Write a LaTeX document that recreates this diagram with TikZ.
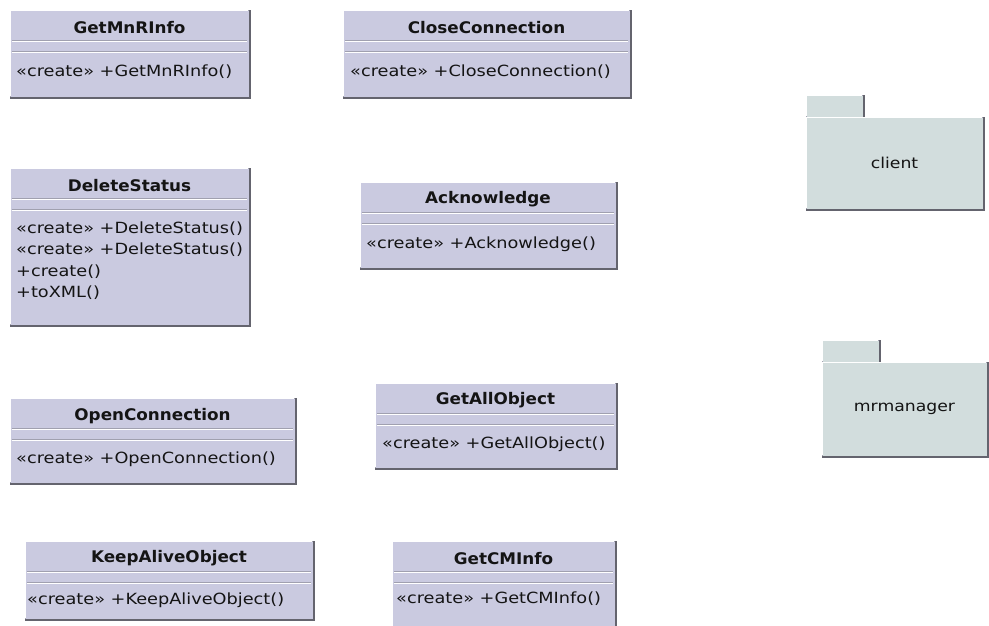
\documentclass[tikz,border=0pt]{standalone}
\usepackage{fontspec}
\setmainfont{DejaVu Sans}
\newfontfamily\mfont[FakeStretch=1.15]{DejaVu Sans}
\newfontfamily\tfont[FakeStretch=1.05]{DejaVu Sans}
\definecolor{clsfill}{RGB}{202,202,224}
\definecolor{pkgfill}{RGB}{210,221,221}
\definecolor{edgedark}{RGB}{100,100,110}
\definecolor{edgemid}{RGB}{160,160,175}
\definecolor{textc}{RGB}{20,20,20}
\tikzset{
  clsbox/.style={draw=edgemid, line width=0.8pt, fill=clsfill, inner sep=0pt, rectangle},
  pkgbox/.style={draw=edgemid, line width=0.8pt, fill=pkgfill, inner sep=0pt, rectangle},
  titletext/.style={font=\tfont\bfseries\fontsize{16}{19}\selectfont, text=textc, inner sep=0pt},
  methtext/.style={font=\mfont\fontsize{15.4}{18}\selectfont, text=textc, inner sep=0pt, anchor=base west},
  pkgtext/.style={font=\mfont\fontsize{15}{18}\selectfont, text=textc, inner sep=0pt},
  sepline/.style={draw=edgemid, line width=0.8pt},
  hiline/.style={draw=white, line width=0.8pt},
  darkedge/.style={draw=edgedark, line width=1.4pt},
}
% #1 name, #2 x1, #3 y1, #4 x2, #5 y2, #6 title
\newcommand\umlclass[6]{%
  \node[clsbox, minimum width={#4pt-#2pt}, minimum height={#5pt-#3pt}] (#1) at ({(#2+#4)/2},{(#3+#5)/2}) {};
  \draw[hiline] ([xshift=1pt,yshift=1pt]#1.south west) |- ([xshift=-1pt,yshift=-1pt]#1.north east);
  \draw[darkedge] ([xshift=0.7pt,yshift=-0.5pt]#1.north east) -- ([xshift=0.7pt,yshift=-0.7pt]#1.south east) -- ([xshift=0.5pt,yshift=-0.7pt]#1.south west);
  \node[titletext] (#1t) at ([yshift=-18pt]#1.north) {#6};
  \draw[sepline] ([xshift=2pt,yshift=-30.5pt]#1.north west) -- ([xshift=-2pt,yshift=-30.5pt]#1.north east);
  \draw[hiline] ([xshift=2pt,yshift=-31.5pt]#1.north west) -- ([xshift=-2pt,yshift=-31.5pt]#1.north east);
  \draw[sepline] ([xshift=2pt,yshift=-41.5pt]#1.north west) -- ([xshift=-2pt,yshift=-41.5pt]#1.north east);
  \draw[hiline] ([xshift=2pt,yshift=-42.5pt]#1.north west) -- ([xshift=-2pt,yshift=-42.5pt]#1.north east);
}
% #1 name, #2 x1, #3 tab top, #4 tab right, #5 body top, #6 x2, #7 y2
\newcommand\umlpkg[7]{%
  \node[pkgbox, minimum width={#4pt-#2pt}, minimum height={#5pt-#3pt}] (#1tab) at ({(#2+#4)/2},{(#3+#5)/2}) {};
  \draw[hiline] ([xshift=1pt,yshift=1pt]#1tab.south west) |- ([xshift=-1pt,yshift=-1pt]#1tab.north east);
  \draw[darkedge] ([xshift=0.7pt,yshift=-0.5pt]#1tab.north east) -- ([xshift=0.7pt]#1tab.south east);
  \node[pkgbox, minimum width={#6pt-#2pt}, minimum height={#7pt-#5pt}] (#1) at ({(#2+#6)/2},{(#5+#7)/2}) {};
  \draw[hiline] ([xshift=1pt,yshift=1pt]#1.south west) |- ([xshift=-1pt,yshift=-1pt]#1.north east);
  \draw[darkedge] ([xshift=0.7pt,yshift=-0.5pt]#1.north east) -- ([xshift=0.7pt,yshift=-0.7pt]#1.south east) -- ([xshift=0.5pt,yshift=-0.7pt]#1.south west);
}
\begin{document}
\begin{tikzpicture}[x=1pt,y=-1pt]
\useasboundingbox (0,0) rectangle (989,626);
\clip (0,0) rectangle (989,626);
\fill[white] (0,0) rectangle (989,626);

\umlclass{gmi}{10}{10}{249}{97}{GetMnRInfo}
\node[methtext] (gmi1) at (16,77) {«create» +GetMnRInfo()};

\umlclass{cc}{343}{10}{630}{97}{CloseConnection}
\node[methtext] (cc1) at (350,77) {«create» +CloseConnection()};

\umlclass{ds}{10}{168}{249}{325}{DeleteStatus}
\node[methtext] (ds1) at (16,233) {«create» +DeleteStatus()};
\node[methtext] (ds2) at (16,254.5) {«create» +DeleteStatus()};
\node[methtext] (ds3) at (16,276) {+create()};
\node[methtext] (ds4) at (16,297.5) {+toXML()};

\umlclass{ack}{360}{182}{616}{268}{Acknowledge}
\node[methtext] (ack1) at (366,248) {«create» +Acknowledge()};

\umlclass{oc}{10}{398}{295}{483}{OpenConnection}
\node[methtext] (oc1) at (16,463.5) {«create» +OpenConnection()};

\umlclass{gao}{375}{383}{616}{468}{GetAllObject}
\node[methtext] (gao1) at (382,448.5) {«create» +GetAllObject()};

\umlclass{kao}{25}{541}{313}{619}{KeepAliveObject}
\node[methtext] (kao1) at (27,604) {«create» +KeepAliveObject()};

\umlclass{gcm}{392}{541}{615}{630}{GetCMInfo}
\node[methtext] (gcm1) at (396,603) {«create» +GetCMInfo()};

\umlpkg{client}{806}{95}{863}{117}{983}{209}
\node[pkgtext] (clientl) at (client.center) {client};

\umlpkg{mrm}{822}{340}{879}{362}{987}{456}
\node[pkgtext] (mrml) at (mrm.center) {mrmanager};
\end{tikzpicture}
\end{document}
